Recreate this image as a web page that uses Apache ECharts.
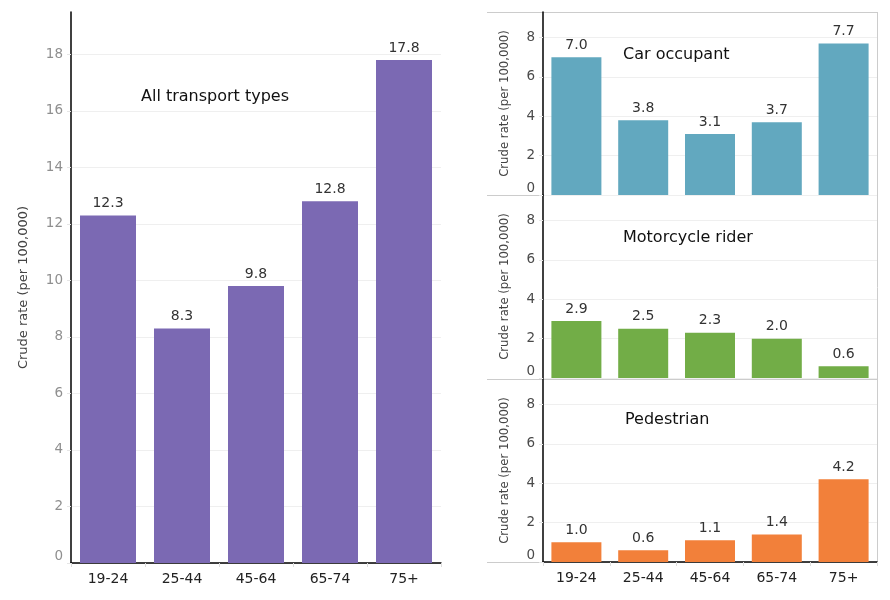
<!DOCTYPE html>
<html>
<head>
<meta charset="utf-8">
<script src="https://cdn.jsdelivr.net/npm/echarts@6/dist/echarts.min.js"></script>
<style>
  html, body { margin: 0; padding: 0; background: #fff; }
  #chart { width: 890px; height: 600px; }
</style>
</head>
<body>
<div id="chart"></div>
<script>
// age groups on the x axis
const ageGroups = ['19-24', '25-44', '45-64', '65-74', '75+'];
// crude rate per 100,000
const allTransport = [12.3, 8.3, 9.8, 12.8, 17.8];
const carOccupant = [7.0, 3.8, 3.1, 3.7, 7.7];
const motorcycleRider = [2.9, 2.5, 2.3, 2.0, 0.6];
const pedestrian = [1.0, 0.6, 1.1, 1.4, 4.2];

const panelNames = ['Car occupant', 'Motorcycle rider', 'Pedestrian'];
const panelData = [carOccupant, motorcycleRider, pedestrian];
const panelColors = ['#62a8bf', '#72ad47', '#f2803a'];

const font = '"DejaVu Sans", Verdana, sans-serif';
const yName = 'Crude rate (per 100,000)';

// left big chart + three small panels on the right
const panelTops = [12, 195, 379];
const panelHeight = 183;

let chart = echarts.init(document.getElementById('chart'));

function yAxisFor(gridIndex, max, labelColor, nameSize, nameGap) {
  return {
    gridIndex: gridIndex,
    type: 'value',
    min: 0,
    max: max,
    interval: 2,
    name: yName,
    nameLocation: 'middle',
    nameGap: nameGap,
    nameTextStyle: { fontFamily: font, fontSize: nameSize, color: '#444' },
    axisLine: { show: true, lineStyle: { color: '#000', width: 1.5 } },
    axisTick: { show: true, length: 4, lineStyle: { color: '#e6e6e6' } },
    axisLabel: {
      fontFamily: font, fontSize: 13.5, color: labelColor, margin: 8,
      showMaxLabel: false,
      verticalAlignMinLabel: 'bottom'
    },
    splitLine: { show: true, showMaxLine: false, lineStyle: { color: '#efefef' } }
  };
}

function xAxisFor(gridIndex, showLabels, showLine) {
  return {
    gridIndex: gridIndex,
    type: 'category',
    data: ageGroups,
    axisLine: { show: showLine, lineStyle: { color: '#000', width: 1.5 } },
    axisTick: { show: showLabels, length: 4, lineStyle: { color: '#ddd' } },
    axisLabel: { show: showLabels, fontFamily: font, fontSize: 14, color: '#222', margin: 9 }
  };
}

function barSeries(idx, data, color, width) {
  return {
    type: 'bar',
    xAxisIndex: idx,
    yAxisIndex: idx,
    data: data,
    barWidth: width,
    itemStyle: { color: color },
    label: {
      show: true,
      position: 'top',
      distance: 5,
      fontFamily: font,
      fontSize: 14,
      color: '#333',
      formatter: p => p.value.toFixed(1)
    }
  };
}

const titleStyle = { fontFamily: font, fontSize: 16, fontWeight: 'normal', color: '#111' };

const grids = [{ left: 71, top: 12, width: 370, height: 551 }];
const xAxes = [xAxisFor(0, true, true)];
const yAxes = [yAxisFor(0, 19.5, '#8f8f8f', 13, 41)];
const series = [barSeries(0, allTransport, '#7b69b3', 56)];
const titles = [{ text: 'All transport types', left: 141, top: 89, padding: 0, textStyle: titleStyle }];
const titleLeft = [623, 623, 625];
const titleOffset = [35, 35, 33];

panelTops.forEach((top, i) => {
  const idx = i + 1;
  grids.push({ left: 543, top: top, width: 334, height: panelHeight });
  xAxes.push(xAxisFor(idx, i === 2, i === 2));
  yAxes.push(yAxisFor(idx, 9.3, '#4a4a4a', 11.7, 32));
  series.push(barSeries(idx, panelData[i], panelColors[i], 50));
  titles.push({ text: panelNames[i], left: titleLeft[i], top: top + titleOffset[i], padding: 0, textStyle: titleStyle });
});

// panel separators and right border
const sepStyle = { stroke: '#cccccc', lineWidth: 1 };
const graphics = [12, 195, 379].map(y => ({
  type: 'line', shape: { x1: 487, y1: y + 0.5, x2: 877, y2: y + 0.5 }, style: sepStyle, z: 0
}));
graphics.push({ type: 'line', shape: { x1: 487, y1: 562.5, x2: 543, y2: 562.5 }, style: sepStyle, z: 0 });
graphics.push({ type: 'line', shape: { x1: 877.5, y1: 12, x2: 877.5, y2: 563 }, style: sepStyle, z: 0 });

chart.setOption({
  animation: false,
  title: titles,
  grid: grids,
  xAxis: xAxes,
  yAxis: yAxes,
  series: series,
  graphic: graphics
});
</script>
</body>
</html>
